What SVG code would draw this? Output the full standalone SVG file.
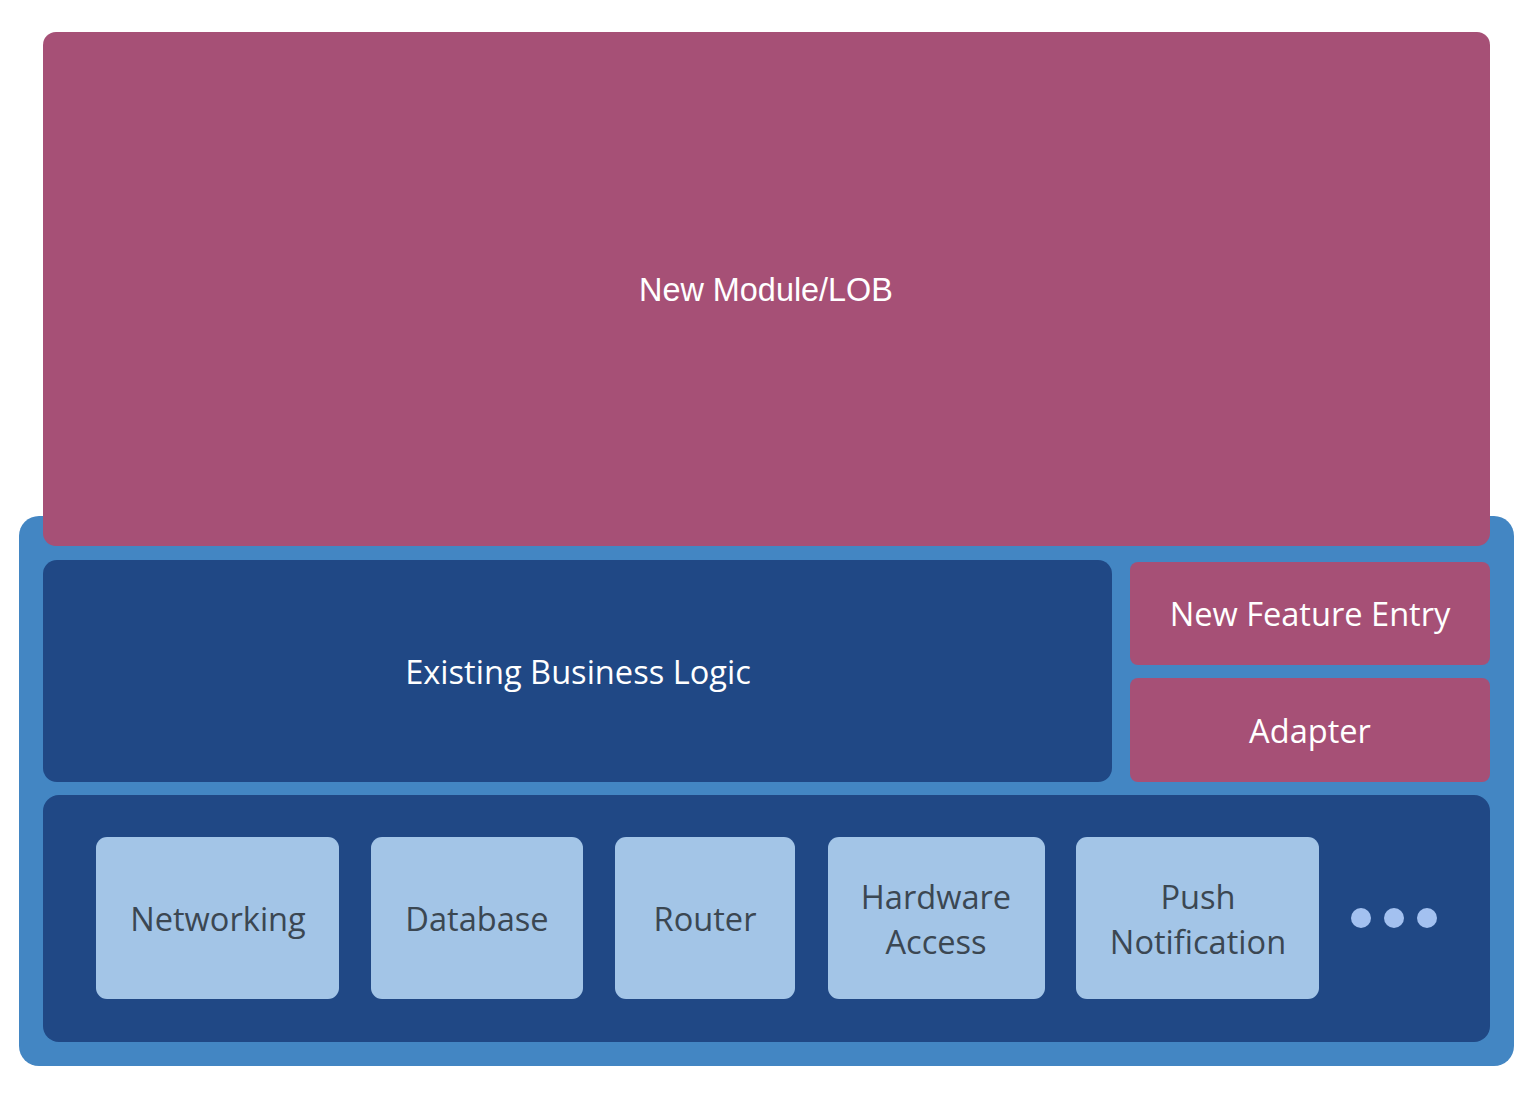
<svg xmlns="http://www.w3.org/2000/svg" width="1530" height="1112" viewBox="0 0 1530 1112">
<style>
.pink{fill:#A65076}
.dark{fill:#204885}
.light{fill:#A3C5E7}
.t{font-family:"Open Sans","Noto Sans",sans-serif;font-size:32.6px;text-anchor:middle;dominant-baseline:central}
.w{fill:#FFFFFF}
.g{fill:#3B4752}
.dot{fill:#A3C1F0}
</style>
<rect width="1530" height="1112" fill="#FFFFFF"/>
<g id="container">
<rect x="19" y="516" width="1495" height="550" rx="20" fill="#4386C3"/>
</g>
<g id="new-module">
<rect class="pink" x="43" y="32" width="1447" height="514" rx="13"/>
<text x="766" y="290" font-family="Liberation Sans, Arial, sans-serif" font-size="32.4" text-anchor="middle" dominant-baseline="central" fill="#FFFFFF">New Module/LOB</text>
</g>
<g id="existing-business-logic">
<rect class="dark" x="43" y="560" width="1069" height="222" rx="14"/>
<text class="t w" x="578" y="671">Existing Business Logic</text>
</g>
<g id="new-feature-entry">
<rect class="pink" x="1130" y="562" width="360" height="103" rx="8"/>
<text class="t w" x="1310" y="613">New Feature Entry</text>
</g>
<g id="adapter">
<rect class="pink" x="1130" y="678" width="360" height="104" rx="8"/>
<text class="t w" x="1310" y="730">Adapter</text>
</g>
<g id="infrastructure">
<rect class="dark" x="43" y="795" width="1447" height="247" rx="16"/>
</g>
<g id="networking">
<rect class="light" x="96" y="837" width="243" height="162" rx="11"/>
<text class="t g" x="218" y="918">Networking</text>
</g>
<g id="database">
<rect class="light" x="371" y="837" width="212" height="162" rx="11"/>
<text class="t g" x="477" y="918">Database</text>
</g>
<g id="router">
<rect class="light" x="615" y="837" width="180" height="162" rx="11"/>
<text class="t g" x="705" y="918">Router</text>
</g>
<g id="hardware-access">
<rect class="light" x="828" y="837" width="217" height="162" rx="11"/>
<text class="t g"><tspan x="936" y="896">Hardware</tspan><tspan x="936" y="941">Access</tspan></text>
</g>
<g id="push-notification">
<rect class="light" x="1076" y="837" width="243" height="162" rx="11"/>
<text class="t g"><tspan x="1198" y="896">Push</tspan><tspan x="1198" y="941">Notification</tspan></text>
</g>
<g id="more">
<circle class="dot" cx="1361" cy="918" r="10"/>
<circle class="dot" cx="1394" cy="918" r="10"/>
<circle class="dot" cx="1427" cy="918" r="10"/>
</g>
<g id="connectors"></g>
</svg>
